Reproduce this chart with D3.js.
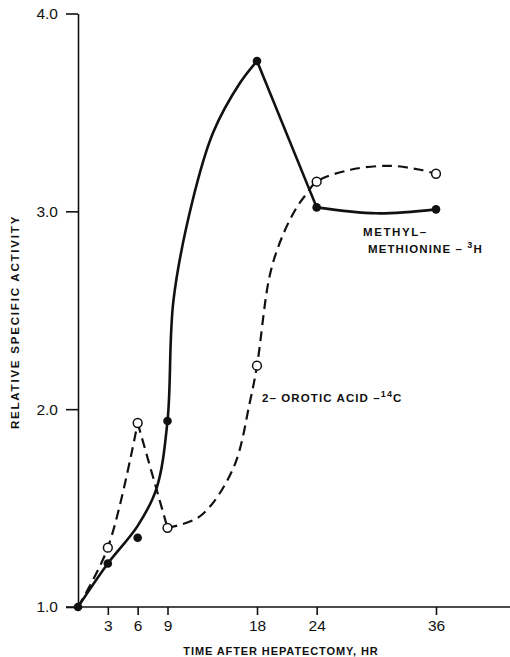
<!DOCTYPE html>
<html>
<head>
<meta charset="utf-8">
<script src="https://cdn.jsdelivr.net/npm/d3@7"></script>
<style>
  body { margin: 0; background: #fff; }
  text { font-family: "Liberation Sans", "DejaVu Sans", sans-serif; fill: #111; }
</style>
</head>
<body>
<div id="chart"></div>
<script>
// measured points (hours after hepatectomy)
var hours = [0, 3, 6, 9, 18, 24, 36];
var methylValues = [1.00, 1.22, 1.35, 1.94, 3.76, 3.02, 3.01];
var oroticValues = [1.00, 1.30, 1.93, 1.40, 2.22, 3.15, 3.19];

// course of the hand drawn lines
var methylLineHours = [0, 3, 6, 7.9, 9, 9.6, 11.5, 13.6, 16.3, 18, 24, 30, 36];
var methylLineValues = [1.00, 1.22, 1.41, 1.60, 1.94, 2.55, 3.05, 3.40, 3.65, 3.76, 3.02, 2.99, 3.01];
var methylCorners = [18, 24];
var oroticLineHours = [0, 3, 6, 9, 12.3, 15.6, 17.3, 18, 19.3, 20.6, 22, 23, 24, 27.4, 31.4, 34.4, 36];
var oroticLineValues = [1.00, 1.30, 1.93, 1.40, 1.46, 1.70, 2.04, 2.22, 2.68, 2.88, 3.02, 3.09, 3.15, 3.21, 3.23, 3.21, 3.19];
var oroticCorners = [6, 9];

var xTicks = [3, 6, 9, 18, 24, 36];
var yTicks = [1, 2, 3, 4];

var svgWidth = 510;
var svgHeight = 657;

var svg = d3.select("#chart")
  .append("svg")
  .attr("width", svgWidth)
  .attr("height", svgHeight);

var x = d3.scaleLinear().domain([0, 36]).range([78, 436]);
var y = d3.scaleLinear().domain([1, 4]).range([607, 13.5]);

// y axis
var leftAxis = d3.axisLeft(y)
  .tickValues(yTicks)
  .tickFormat(d3.format(".1f"))
  .tickSize(12)
  .tickSizeOuter(0)
  .tickPadding(8);

var yAxis = svg.append("g")
  .attr("transform", "translate(" + x(0) + ",0)")
  .call(leftAxis);
yAxis.selectAll("text").style("font-size", "15.5px");
yAxis.selectAll("line, path").attr("stroke", "#111").attr("stroke-width", 1.6);

// x axis
var bottomAxis = d3.axisBottom(x)
  .tickValues(xTicks)
  .tickSize(8)
  .tickPadding(5);

var xAxis = svg.append("g")
  .attr("transform", "translate(0," + y(1) + ")")
  .call(bottomAxis);
xAxis.select(".domain").remove();
xAxis.selectAll("text").style("font-size", "15.5px");
xAxis.selectAll("line").attr("stroke", "#111").attr("stroke-width", 1.6);

svg.append("line")
  .attr("x1", x(0) - 12).attr("x2", svgWidth)
  .attr("y1", y(1)).attr("y2", y(1))
  .attr("stroke", "#111").attr("stroke-width", 1.6);

// split a drawn line where it has a sharp corner
function pieces(hs, vs, corners) {
  var out = [], cur = [];
  hs.forEach(function(h, i) {
    cur.push([h, vs[i]]);
    if (corners.indexOf(h) >= 0 && cur.length > 1) {
      out.push(cur);
      cur = [[h, vs[i]]];
    }
  });
  if (cur.length > 1) out.push(cur);
  return out;
}

var line = d3.line()
  .x(d => x(d[0]))
  .y(d => y(d[1]))
  .curve(d3.curveCatmullRom.alpha(0.5));

svg.append("g").selectAll("path")
  .data(pieces(oroticLineHours, oroticLineValues, oroticCorners))
  .enter()
  .append("path")
  .attr("d", line)
  .attr("fill", "none")
  .attr("stroke", "#111")
  .attr("stroke-width", 2.2)
  .attr("stroke-dasharray", "10,6");

svg.append("g").selectAll("path")
  .data(pieces(methylLineHours, methylLineValues, methylCorners))
  .enter()
  .append("path")
  .attr("d", line)
  .attr("fill", "none")
  .attr("stroke", "#111")
  .attr("stroke-width", 2.6)
  .attr("stroke-linejoin", "round");

// markers
svg.append("g").selectAll("circle")
  .data(hours.slice(1))
  .enter()
  .append("circle")
  .attr("cx", d => x(d))
  .attr("cy", (d, i) => y(oroticValues[i + 1]))
  .attr("r", 4.4)
  .attr("fill", "#fff")
  .attr("stroke", "#111")
  .attr("stroke-width", 1.5);

svg.append("g").selectAll("circle")
  .data(hours)
  .enter()
  .append("circle")
  .attr("cx", d => x(d))
  .attr("cy", (d, i) => y(methylValues[i]))
  .attr("r", 4.3)
  .attr("fill", "#111");

// series labels
svg.append("text")
  .attr("x", 363).attr("y", 236)
  .style("font-size", "11.5px").style("font-weight", "bold")
  .style("letter-spacing", "1.6px")
  .text("METHYL–");

var m2 = svg.append("text")
  .attr("x", 368).attr("y", 253)
  .style("font-size", "11.5px").style("font-weight", "bold")
  .style("letter-spacing", "1.1px");
m2.append("tspan").text("METHIONINE – ");
m2.append("tspan").attr("dy", -5).style("font-size", "9px").text("3");
m2.append("tspan").attr("dy", 5).text("H");

var o2 = svg.append("text")
  .attr("x", 262).attr("y", 402)
  .style("font-size", "11.5px").style("font-weight", "bold")
  .style("letter-spacing", "1.1px");
o2.append("tspan").text("2– OROTIC ACID –");
o2.append("tspan").attr("dy", -5).style("font-size", "9px").text("14");
o2.append("tspan").attr("dy", 5).text("C");

// axis titles
svg.append("text")
  .attr("transform", "translate(19,322) rotate(-90)")
  .attr("text-anchor", "middle")
  .style("font-size", "11.5px").style("font-weight", "bold")
  .style("letter-spacing", "1.8px")
  .text("RELATIVE SPECIFIC ACTIVITY");

svg.append("text")
  .attr("x", 281).attr("y", 655)
  .attr("text-anchor", "middle")
  .style("font-size", "11px").style("font-weight", "bold")
  .style("letter-spacing", "0.9px")
  .text("TIME AFTER HEPATECTOMY, HR");
</script>
</body>
</html>
